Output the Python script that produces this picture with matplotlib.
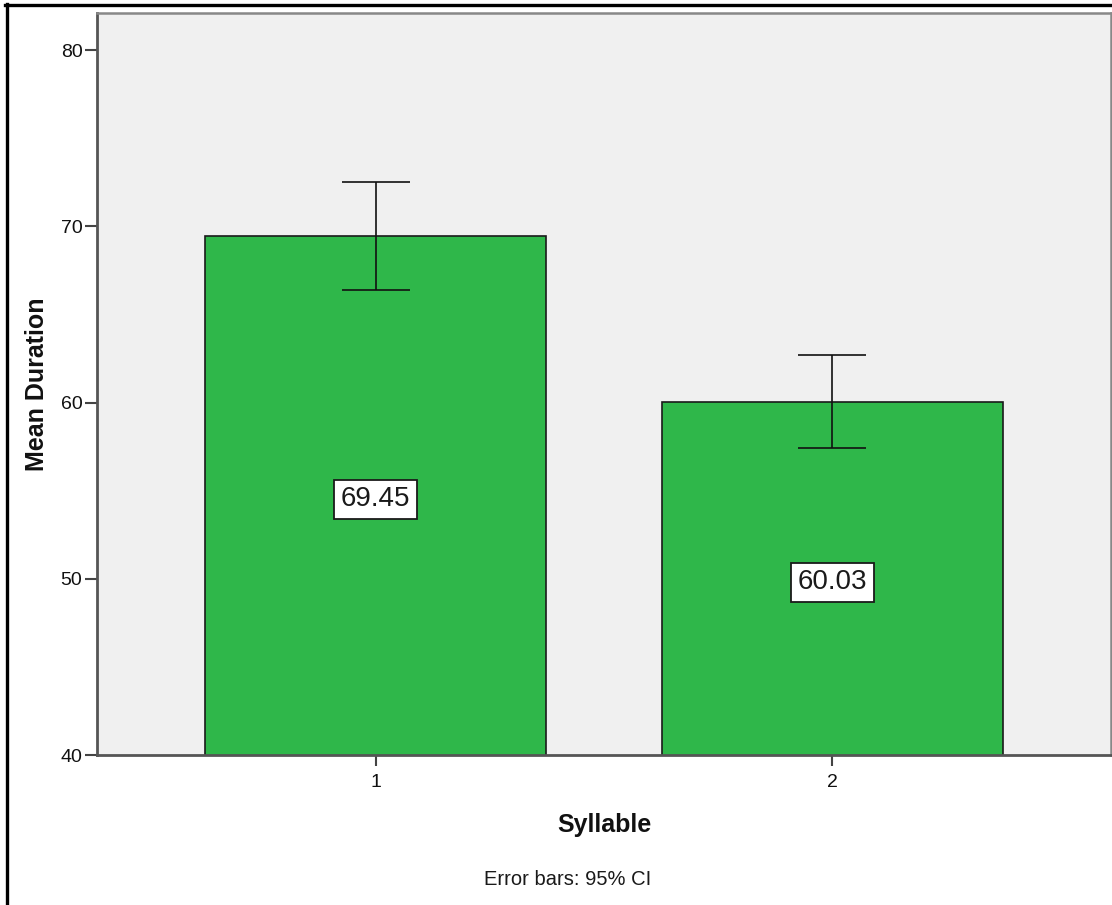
import matplotlib
matplotlib.use("Agg")
import matplotlib.pyplot as plt
from matplotlib.lines import Line2D

# Data
categories = ["1", "2"]
means = [69.45, 60.03]
ci_upper = [72.51, 62.68]
ci_lower = [66.38, 57.40]
value_labels = ["69.45", "60.03"]
yticks = [40, 50, 60, 70, 80]

plt.rcParams['font.family'] = ['Liberation Sans', 'DejaVu Sans']

W, H = 1112, 905
fig = plt.figure(figsize=(W / 100, H / 100), dpi=100)
fig.patch.set_facecolor('white')

ax = fig.add_axes([97 / W, (H - 755) / H, (1111 - 97) / W, (755 - 13) / H])
ax.set_facecolor('#f0f0f0')

x = list(range(1, len(categories) + 1))
ax.bar(x, means, width=0.748, bottom=0, color='#2fb74a', edgecolor='#1a1a1a',
       linewidth=1.2, zorder=2)

yerr_low = [m - l for m, l in zip(means, ci_lower)]
yerr_high = [u - m for m, u in zip(means, ci_upper)]
ax.errorbar(x, means, yerr=[yerr_low, yerr_high], fmt='none', ecolor='#111111',
            elinewidth=1.2, capsize=24.5, capthick=1.2, zorder=3)

ylo, yhi = 40, 82.1
ax.set_ylim(ylo, yhi)
ax.set_xlim(0.39, 2.61)

for xi, m, lab in zip(x, means, value_labels):
    ax.text(xi, (ylo + m) / 2 - 0.22, lab, ha='center', va='center', fontsize=20,
            color='#1a1a1a', zorder=4,
            bbox=dict(boxstyle='square,pad=0.24', facecolor='white',
                      edgecolor='#1a1a1a', linewidth=1.3))

ax.set_yticks(yticks)
ax.set_yticklabels([str(t) for t in yticks])
ax.set_xticks(x)
ax.set_xticklabels(categories)
ax.tick_params(axis='y', direction='out', length=8.5, width=1.5, color='#444444',
               labelsize=14, pad=2, labelcolor='#111111')
ax.tick_params(axis='x', direction='out', length=8, width=1.5, color='#444444',
               labelsize=14, pad=6, labelcolor='#111111')

for side in ['left', 'bottom']:
    ax.spines[side].set_color('#555555')
    ax.spines[side].set_linewidth(2.0)
for side in ['top', 'right']:
    ax.spines[side].set_color('#888888')
    ax.spines[side].set_linewidth(1.8)

ax.set_xlabel('Syllable', fontsize=18, fontweight='bold', labelpad=14, color='#111111')
ax.set_ylabel('Mean Duration', fontsize=18, fontweight='bold', labelpad=20, color='#111111')
ax.yaxis.set_label_coords(-(97 - 37) / (1111 - 97), 0.5)
ax.xaxis.set_label_coords(0.5, -(825 - 755) / (755 - 13))
ax.xaxis.label.set_va('center')
ax.yaxis.label.set_va('center')

fig.text(568 / W, 1 - 879 / H, 'Error bars: 95% CI', ha='center', va='center',
         fontsize=14.5, color='#1a1a1a')

# Outer frame (left and top visible)
fig.add_artist(Line2D([6.5 / W, 6.5 / W], [0, 1 - 4 / H], transform=fig.transFigure,
                      color='black', linewidth=2.4))
fig.add_artist(Line2D([5 / W, 1], [1 - 5.5 / H, 1 - 5.5 / H], transform=fig.transFigure,
                      color='black', linewidth=2.4))

fig.savefig('out.png', dpi=100)
